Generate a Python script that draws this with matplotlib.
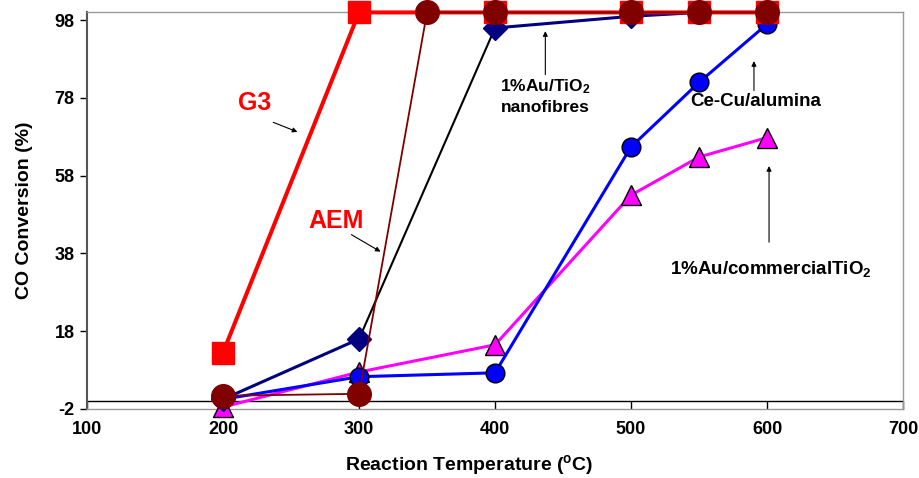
import matplotlib
matplotlib.use('Agg')
import matplotlib.pyplot as plt

plt.rcParams['font.family'] = ['Liberation Sans', 'DejaVu Sans']
plt.rcParams['font.weight'] = 'bold'
plt.rcParams['mathtext.fontset'] = 'custom'
plt.rcParams['mathtext.rm'] = 'Liberation Sans:bold'
plt.rcParams['mathtext.default'] = 'rm'
plt.rcParams['axes.unicode_minus'] = False

# data
temp_g3 = [200, 300, 400, 500, 550, 600]
conv_g3 = [12.5, 100, 100, 100, 100, 100]

temp_aem = [200, 300, 350, 400, 500, 550, 600]
conv_aem = [1.4, 1.9, 100, 100, 100, 100, 100]

temp_nano = [200, 300, 400, 500, 550, 600]
conv_nano = [0.5, 16, 96, 99, 100, 100]

temp_cecu = [200, 300, 400, 500, 550, 600]
conv_cecu = [0.5, 6.3, 7.3, 65.4, 82, 97]

temp_comm = [200, 300, 400, 500, 550, 600]
conv_comm = [-1.5, 7.5, 14.5, 53, 62.8, 67.8]

xticks = [100, 200, 300, 400, 500, 600, 700]
yticks = [-2, 18, 38, 58, 78, 98]

fig = plt.figure(figsize=(9.19, 4.78), dpi=100)
ax = fig.add_axes([0.0947, 0.1444, 0.8879, 0.8296])

ax.axhline(0, color='black', lw=1, zorder=1)

# 1%Au/commercial TiO2
ax.plot(temp_comm, conv_comm, color='#FF00FF', lw=2.2, marker='^', ms=15,
        mfc='#FF00FF', mec='black', mew=1, clip_on=False, zorder=3)
# Ce-Cu/alumina
ax.plot(temp_cecu, conv_cecu, color='#0000FF', lw=2.2, marker='o', ms=13.5,
        mfc='#0000FF', mec='black', mew=1, clip_on=False, zorder=4)
# 1%Au/TiO2 nanofibres (300-400 segment drawn in thin black)
ax.plot(temp_nano[:2], conv_nano[:2], color='#000080', lw=2.2, zorder=5)
ax.plot(temp_nano[1:3], conv_nano[1:3], color='black', lw=1.5, zorder=5)
ax.plot(temp_nano[2:], conv_nano[2:], color='#000080', lw=2.2, zorder=5, clip_on=False)
ax.plot(temp_nano, conv_nano, ls='none', marker='D', ms=12.5,
        mfc='#000080', mec='#000080', clip_on=False, zorder=5)
# G3
ax.plot(temp_g3, conv_g3, color='#FF0000', lw=2.9, marker='s', ms=16,
        mfc='#FF0000', mec='#FF0000', clip_on=False, zorder=6)
# AEM
ax.plot(temp_aem, conv_aem, color='#800000', lw=1.3, marker='o', ms=17,
        mfc='#800000', mec='#800000', clip_on=False, zorder=7)

ax.set_xlim(100, 700)
ax.set_ylim(-2, 100)
ax.set_xticks(xticks)
ax.set_yticks(yticks)
ax.tick_params(axis='x', direction='in', length=6, width=1, labelsize=13, pad=9)
ax.tick_params(axis='y', direction='out', length=5, width=1, labelsize=13, pad=4)
for lab in ax.get_xticklabels() + ax.get_yticklabels():
    lab.set_fontweight('bold')

ax.spines['left'].set_color('#555555')
ax.spines['left'].set_linewidth(1.5)
for s in ['top', 'right', 'bottom']:
    ax.spines[s].set_color('#999999')
    ax.spines[s].set_linewidth(1)

ax.set_xlabel('Reaction Temperature ($^{o}$C)', fontsize=14, fontweight='bold')
ax.set_ylabel('CO Conversion (%)', fontsize=14, fontweight='bold')
ax.xaxis.set_label_coords(0.468, -0.110)
ax.yaxis.set_label_coords(-0.066, 0.5)

# annotations
arrow = dict(arrowstyle='-|>', color='black', lw=0.8, mutation_scale=7)
ax.text(223.5, 76.7, 'G3', color='#FF0000', fontsize=18, fontweight='bold',
        ha='center', va='center')
ax.annotate('', xy=(256.6, 69), xytext=(235, 72), arrowprops=arrow)
ax.text(283, 46.3, 'AEM', color='#FF0000', fontsize=18, fontweight='bold',
        ha='center', va='center')
ax.annotate('', xy=(317.6, 38.1), xytext=(292.6, 43.2), arrowprops=arrow)

ax.text(437, 78.5, '1%Au/TiO$_2$\nnanofibres', fontsize=12.5, fontweight='bold',
        ha='center', va='center', linespacing=1.3)
ax.annotate('', xy=(437, 95.9), xytext=(437, 83.3), arrowprops=arrow)

ax.text(592, 77.2, 'Ce-Cu/alumina', fontsize=13.5, fontweight='bold',
        ha='center', va='center')
ax.annotate('', xy=(590.4, 88.2), xytext=(590.4, 79.2), arrowprops=arrow)

ax.text(603, 34, '1%Au/commercialTiO$_2$', fontsize=13.5, fontweight='bold',
        ha='center', va='center')
ax.annotate('', xy=(601.5, 61.2), xytext=(601.5, 40.2), arrowprops=arrow)

fig.savefig('out.png', dpi=100)
